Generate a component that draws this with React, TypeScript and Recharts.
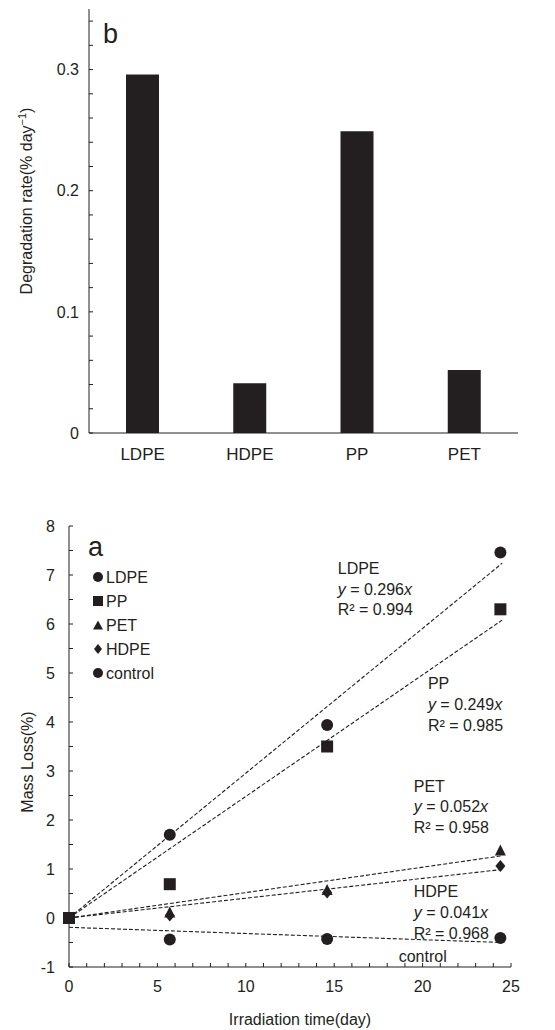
import React from 'react';
import {
  BarChart,
  Bar,
  ScatterChart,
  Scatter,
  XAxis,
  YAxis,
  ReferenceLine,
  ReferenceDot,
} from 'recharts';

const FONT = "'Liberation Sans', Arial, Helvetica, sans-serif";
const INK = '#231f20';

// panel b: degradation rate per polymer
const polymers = ['LDPE', 'HDPE', 'PP', 'PET'];
const rates = [0.296, 0.041, 0.249, 0.052];
const rateTicks = [0, 0.02, 0.04, 0.06, 0.08, 0.1, 0.12, 0.14, 0.16, 0.18, 0.2, 0.22, 0.24, 0.26, 0.28, 0.3, 0.32, 0.34];
const rateLabels = [0, 0.1, 0.2, 0.3];

// panel a: mass loss vs irradiation time
const days = [0, 5.7, 14.6, 24.4];
const ldpeLoss = [0, 1.7, 3.94, 7.46];
const ppLoss = [0, 0.69, 3.5, 6.3];
const petLoss = [0, 0.12, 0.58, 1.39];
const hdpeLoss = [0, 0.05, 0.52, 1.06];
const controlDays = [5.7, 14.6, 24.4];
const controlLoss = [-0.44, -0.43, -0.41];

const dayTicks = [0, 1, 2, 3, 4, 5, 6, 7, 8, 9, 10, 11, 12, 13, 14, 15, 16, 17, 18, 19, 20, 21, 22, 23, 24, 25];
const dayLabels = [0, 5, 10, 15, 20, 25];
const lossTicks = [-1, -0.5, 0, 0.5, 1, 1.5, 2, 2.5, 3, 3.5, 4, 4.5, 5, 5.5, 6, 6.5, 7, 7.5, 8];
const lossLabels = [-1, 0, 1, 2, 3, 4, 5, 6, 7, 8];

// dashed fit lines (start at day 0, end at fitEndDay)
const fitStart = [0, 0, 0, 0, -0.19];
const fitEnd = [7.24, 6.08, 1.27, 0.99, -0.5];
const fitEndDay = 24.5;

// equation notes
const noteNames = ['LDPE', 'PP', 'PET', 'HDPE'];
const noteSlopes = ['0.296', '0.249', '0.052', '0.041'];
const noteR2 = ['0.994', '0.985', '0.958', '0.968'];
const noteDay = [15.2, 20.3, 19.5, 19.5];
const noteLoss = [7.02, 4.67, 2.58, 0.42];

const rateData = polymers.map((name, i) => ({ name, rate: rates[i] }));
const toPoints = (xs: number[], ys: number[]) => xs.map((x, i) => ({ x, y: ys[i] }));

const circle = (r: number) => (p: any) => <circle cx={p.cx} cy={p.cy} r={r} fill={INK} />;
const square = (s: number) => (p: any) => (
  <rect x={p.cx - s / 2} y={p.cy - s / 2} width={s} height={s} fill={INK} />
);
const triangle = (w: number, h: number) => (p: any) => (
  <polygon
    points={`${p.cx},${p.cy - h / 2} ${p.cx + w / 2},${p.cy + h / 2} ${p.cx - w / 2},${p.cy + h / 2}`}
    fill={INK}
  />
);
const diamond = (w: number, h: number) => (p: any) => (
  <polygon
    points={`${p.cx},${p.cy - h / 2} ${p.cx + w / 2},${p.cy} ${p.cx},${p.cy + h / 2} ${p.cx - w / 2},${p.cy}`}
    fill={INK}
  />
);

const tickStyle = { fill: INK, fontSize: 16, fontFamily: FONT };

const noteLabel = (i: number) => (props: any) => {
  const { x, y } = props.viewBox;
  return (
    <text x={x} y={y} fill={INK} fontSize={16} fontFamily={FONT}>
      <tspan x={x} dy={0}>{noteNames[i]}</tspan>
      <tspan x={x} dy={20.7} fontStyle="italic">y</tspan>
      <tspan>{` = ${noteSlopes[i]}`}</tspan>
      <tspan fontStyle="italic">x</tspan>
      <tspan x={x} dy={20.7}>{`R² = ${noteR2[i]}`}</tspan>
    </text>
  );
};

const controlLabel = (props: any) => {
  const { x, y } = props.viewBox;
  return (
    <text x={x} y={y} fill={INK} fontSize={16} fontFamily={FONT}>
      control
    </text>
  );
};

function RateChart() {
  return (
    <BarChart
      width={555}
      height={500}
      data={rateData}
      margin={{ top: 9, right: 37, bottom: 37, left: 0 }}
    >
      <XAxis
        dataKey="name"
        height={30}
        tickLine={false}
        tickSize={0}
        tickMargin={15}
        axisLine={{ stroke: INK }}
        tick={{ ...tickStyle, fontSize: 17 }}
      />
      <YAxis
        width={89}
        domain={[0, 0.35]}
        ticks={rateTicks}
        interval={0}
        tickFormatter={(v: number) => (rateLabels.includes(v) ? String(v) : '')}
        tickSize={-4}
        tickMargin={14}
        tickLine={{ stroke: INK }}
        axisLine={{ stroke: INK }}
        tick={tickStyle}
      />
      <XAxis xAxisId="top" orientation="top" height={0} tick={false} tickLine={false} axisLine={{ stroke: INK }} />
      <YAxis
        yAxisId="right"
        orientation="right"
        width={0}
        domain={[0, 1]}
        tick={false}
        tickLine={false}
        axisLine={{ stroke: INK }}
      />
      <Bar dataKey="rate" fill={INK} barSize={33} isAnimationActive={false} />
    </BarChart>
  );
}

function MassLossChart() {
  return (
    <ScatterChart width={555} height={530} margin={{ top: 26, right: 44, bottom: 33, left: 0 }}>
      <XAxis
        type="number"
        dataKey="x"
        domain={[0, 25]}
        ticks={dayTicks}
        interval={0}
        tickFormatter={(v: number) => (dayLabels.includes(v) ? String(v) : '')}
        height={30}
        tickSize={-4}
        tickMargin={18}
        tickLine={{ stroke: INK }}
        axisLine={{ stroke: INK }}
        tick={tickStyle}
      />
      <YAxis
        type="number"
        dataKey="y"
        domain={[-1, 8]}
        ticks={lossTicks}
        interval={0}
        tickFormatter={(v: number) => (lossLabels.includes(v) ? String(v) : '')}
        width={69}
        tickSize={-4}
        tickMargin={18}
        tickLine={{ stroke: INK }}
        axisLine={{ stroke: INK }}
        tick={tickStyle}
      />
      <XAxis xAxisId="top" orientation="top" type="number" domain={[0, 25]} height={0} tick={false} tickLine={false} axisLine={{ stroke: INK }} />
      <YAxis
        yAxisId="right"
        orientation="right"
        type="number"
        domain={[-1, 8]}
        width={0}
        tick={false}
        tickLine={false}
        axisLine={{ stroke: INK }}
      />
      {fitStart.map((s, i) => (
        <ReferenceLine
          key={`fit-${i}`}
          segment={[
            { x: 0, y: s },
            { x: fitEndDay, y: fitEnd[i] },
          ]}
          stroke={INK}
          strokeWidth={1.1}
          strokeDasharray="4 2"
        />
      ))}
      {noteNames.map((n, i) => (
        <ReferenceDot
          key={`note-${n}`}
          x={noteDay[i]}
          y={noteLoss[i]}
          r={0}
          fill="none"
          stroke="none"
          label={{ content: noteLabel(i) }}
        />
      ))}
      <ReferenceDot x={18.65} y={-0.89} r={0} fill="none" stroke="none" label={{ content: controlLabel }} />
      <Scatter name="control" data={toPoints(controlDays, controlLoss)} shape={circle(6)} isAnimationActive={false} />
      <Scatter name="LDPE" data={toPoints(days, ldpeLoss)} shape={circle(6)} isAnimationActive={false} />
      <Scatter name="PET" data={toPoints(days, petLoss)} shape={triangle(11, 11)} isAnimationActive={false} />
      <Scatter name="HDPE" data={toPoints(days, hdpeLoss)} shape={diamond(10, 12)} isAnimationActive={false} />
      <Scatter name="PP" data={toPoints(days, ppLoss)} shape={square(12)} isAnimationActive={false} />
    </ScatterChart>
  );
}

const legendItems = ['LDPE', 'PP', 'PET', 'HDPE', 'control'];

function legendSymbol(name: string, cx: number, cy: number) {
  const p = { cx, cy };
  if (name === 'PP') return square(10)(p);
  if (name === 'PET') return triangle(10, 9)(p);
  if (name === 'HDPE') return diamond(8, 10)(p);
  return circle(5)(p);
}

export default function App() {
  return (
    <div style={{ position: 'absolute', left: 0, top: 0, width: 555, height: 1030, background: '#fff' }}>
      <div style={{ position: 'absolute', left: 0, top: 0 }}>
        <RateChart />
      </div>
      <div style={{ position: 'absolute', left: 0, top: 500 }}>
        <MassLossChart />
      </div>
      <svg
        width={555}
        height={1030}
        style={{ position: 'absolute', left: 0, top: 0, pointerEvents: 'none' }}
        fontFamily={FONT}
        fill={INK}
      >
        <text x={103} y={43} fontSize={27}>b</text>
        <text transform="translate(32,201) rotate(-90)" textAnchor="middle" fontSize={16}>
          Degradation rate(% day<tspan dy={-6} fontSize={11}>−1</tspan>
          <tspan dy={6}>)</tspan>
        </text>

        <text x={88} y={556} fontSize={27}>a</text>
        <text transform="translate(33,762) rotate(-90)" textAnchor="middle" fontSize={16}>
          Mass Loss(%)
        </text>
        <text x={300} y={1025} textAnchor="middle" fontSize={16}>
          Irradiation time(day)
        </text>
        {legendItems.map((name, i) => (
          <g key={name}>
            {legendSymbol(name, 98, 577 + i * 24)}
            <text x={106} y={577 + i * 24 + 5.7} fontSize={16}>
              {name}
            </text>
          </g>
        ))}
      </svg>
    </div>
  );
}
